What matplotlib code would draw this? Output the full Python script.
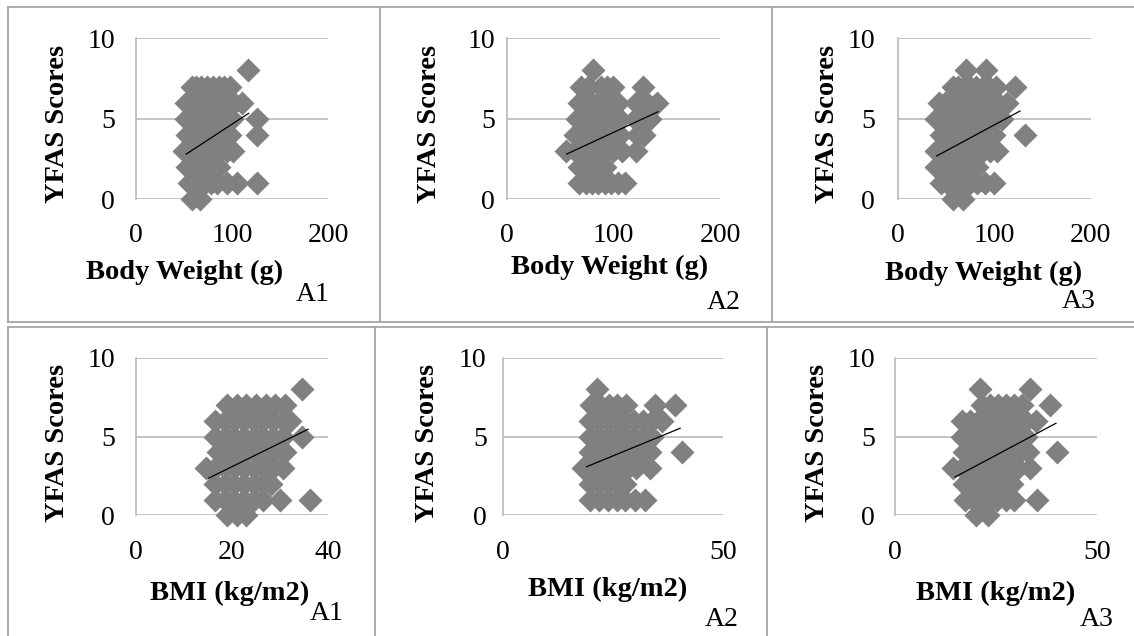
"""
YFAS scores against body weight and BMI, three groups (A1-A3),
drawn as a 2x3 grid of Excel-style scatter panels inside a table.
"""

import matplotlib
matplotlib.use("Agg")
import matplotlib.pyplot as plt
from matplotlib.lines import Line2D

# ---------------- DATA ----------------
# (x, YFAS score) pairs, body weight in g
weight_a1 = [
    (117, 8),
    (58, 7), (63, 7), (68, 7), (74, 7), (80, 7), (86, 7), (92, 7), (98, 7),
    (52, 6), (57, 6), (62, 6), (67, 6), (72, 6), (78, 6), (84, 6), (90, 6), (96, 6), (102, 6), (110, 6),
    (52, 5), (56, 5), (61, 5), (66, 5), (71, 5), (76, 5), (82, 5), (88, 5), (94, 5), (100, 5), (126, 5),
    (53, 4), (58, 4), (63, 4), (68, 4), (74, 4), (80, 4), (86, 4), (92, 4), (98, 4), (126, 4),
    (50, 3), (55, 3), (60, 3), (65, 3), (70, 3), (76, 3), (82, 3), (88, 3), (95, 3), (101, 3),
    (53, 2), (58, 2), (63, 2), (68, 2), (74, 2), (80, 2), (86, 2),
    (55, 1), (60, 1), (66, 1), (72, 1), (78, 1), (84, 1), (95, 1), (105, 1), (126, 1),
    (58, 0), (67, 0),
]
weight_a2 = [
    (81, 8),
    (70, 7), (76, 7), (88, 7), (94, 7), (100, 7), (128, 7),
    (68, 6), (74, 6), (80, 6), (86, 6), (92, 6), (98, 6), (104, 6), (121, 6), (127, 6), (132, 6), (141, 6),
    (66, 5), (72, 5), (78, 5), (84, 5), (90, 5), (96, 5), (102, 5), (106, 5), (120, 5), (128, 5), (134, 5),
    (64, 4), (70, 4), (76, 4), (82, 4), (88, 4), (94, 4), (100, 4), (106, 4), (122, 4), (129, 4),
    (56, 3), (64, 3), (70, 3), (76, 3), (82, 3), (88, 3), (94, 3), (100, 3), (108, 3), (121, 3),
    (68, 2), (74, 2), (80, 2), (86, 2), (92, 2),
    (68, 1), (74, 1), (80, 1), (86, 1), (92, 1), (98, 1), (104, 1), (111, 1),
]
weight_a3 = [
    (71, 8), (92, 8),
    (57, 7), (63, 7), (69, 7), (75, 7), (81, 7), (88, 7), (95, 7), (102, 7), (122, 7),
    (43, 6), (49, 6), (55, 6), (61, 6), (67, 6), (73, 6), (79, 6), (85, 6), (91, 6), (97, 6), (104, 6), (113, 6),
    (40, 5), (46, 5), (52, 5), (58, 5), (64, 5), (70, 5), (76, 5), (82, 5), (88, 5), (94, 5), (100, 5), (108, 5),
    (45, 4), (51, 4), (57, 4), (63, 4), (69, 4), (75, 4), (81, 4), (87, 4), (93, 4), (100, 4), (132, 4),
    (40, 3), (46, 3), (52, 3), (58, 3), (64, 3), (70, 3), (76, 3), (82, 3), (88, 3), (96, 3), (103, 3),
    (40, 2), (46, 2), (52, 2), (58, 2), (64, 2), (70, 2), (76, 2), (82, 2),
    (45, 1), (51, 1), (57, 1), (63, 1), (69, 1), (75, 1), (82, 1), (90, 1), (100, 1),
    (57, 0), (68, 0),
]
# BMI in kg/m2
bmi_a1 = [
    (34.5, 8),
    (19, 7), (21, 7), (23, 7), (25, 7), (27, 7), (29, 7), (31, 7),
    (16.5, 6), (18.5, 6), (20.5, 6), (22.5, 6), (24.5, 6), (26.5, 6), (28.5, 6), (30.5, 6), (32, 6),
    (16.5, 5), (18.5, 5), (20.5, 5), (22.5, 5), (24.5, 5), (26.5, 5), (28.5, 5), (30.5, 5), (34.5, 5),
    (17, 4), (19, 4), (21, 4), (23, 4), (25, 4), (27, 4), (29, 4), (31, 4),
    (14.7, 3), (16.5, 3), (18.5, 3), (20.5, 3), (22.5, 3), (24.5, 3), (26.5, 3), (28.5, 3), (30.6, 3),
    (16.5, 2), (18.5, 2), (20.5, 2), (22.5, 2), (24.5, 2), (26.5, 2), (28, 2),
    (16.5, 1), (18.5, 1), (20.5, 1), (22.5, 1), (24.5, 1), (26.5, 1), (30, 1), (36.2, 1),
    (19, 0), (21, 0), (23, 0),
]
bmi_a2 = [
    (21.3, 8),
    (20, 7), (22, 7), (24, 7), (26, 7), (28, 7), (34.5, 7), (39, 7),
    (19.8, 6), (21.8, 6), (23.8, 6), (25.8, 6), (27.8, 6), (29.8, 6), (31.8, 6), (33.8, 6), (36, 6),
    (19.8, 5), (21.8, 5), (23.8, 5), (25.8, 5), (27.8, 5), (29.8, 5), (31.8, 5), (33.8, 5),
    (19.8, 4), (21.8, 4), (23.8, 4), (25.8, 4), (27.8, 4), (29.8, 4), (31.8, 4), (33.4, 4), (40.6, 4),
    (18.3, 3), (20.3, 3), (22.3, 3), (24.3, 3), (26.3, 3), (28.3, 3), (30.3, 3), (33.4, 3),
    (19.8, 2), (21.8, 2), (23.8, 2), (25.8, 2), (27.7, 2),
    (19.8, 1), (21.8, 1), (23.8, 1), (25.8, 1), (27.8, 1), (30, 1), (32.3, 1),
]
bmi_a3 = [
    (21.1, 8), (33.5, 8),
    (21.5, 7), (23.5, 7), (25.5, 7), (27.5, 7), (29.5, 7), (31.5, 7), (38.4, 7),
    (16.5, 6), (18.5, 6), (20.5, 6), (22.5, 6), (24.5, 6), (26.5, 6), (28.5, 6), (30.5, 6), (32.5, 6), (35, 6),
    (16.5, 5), (18.5, 5), (20.5, 5), (22.5, 5), (24.5, 5), (26.5, 5), (28.5, 5), (30.5, 5), (32.5, 5),
    (17, 4), (19, 4), (21, 4), (23, 4), (25, 4), (27, 4), (29, 4), (31, 4), (33, 4), (40.1, 4),
    (14.5, 3), (16.5, 3), (18.5, 3), (20.5, 3), (22.5, 3), (24.5, 3), (26.5, 3), (28.5, 3), (30.5, 3), (33.5, 3),
    (17, 2), (19, 2), (21, 2), (23, 2), (25, 2), (27, 2), (29, 2),
    (17.4, 1), (19.4, 1), (21.4, 1), (23.4, 1), (25.4, 1), (27.4, 1), (29.4, 1), (35.1, 1),
    (20.2, 0), (23.1, 0),
]

# linear trend lines as drawn (start and end points)
trend_weight_x = [[52.5, 117.3], [56.2, 142.0], [40.4, 126.7]]
trend_weight_y = [[2.81, 5.34], [2.81, 5.44], [2.69, 5.48]]
trend_bmi_x = [[15.1, 35.8], [19.0, 40.2], [14.9, 39.9]]
trend_bmi_y = [[2.35, 5.46], [3.08, 5.52], [2.43, 5.84]]

group_labels = ["A1", "A2", "A3"]
weight_ticks = [0, 100, 200]
bmi_ticks = [[0, 20, 40], [0, 50], [0, 50]]
score_ticks = [0, 5, 10]

# ---------------- LAYOUT (pixels) ----------------
W, H = 1134, 636
plt.rcParams["font.family"] = ["Liberation Serif", "DejaVu Serif"]

GRID = "#b4b4b4"
BORDER = "#a6a6a6"
MARK = "#808080"


def rect(l, t, r, b):
    return [l / W, 1 - b / H, (r - l) / W, (b - t) / H]


def fxy(x, y):
    return x / W, 1 - y / H


def draw_panel(fig, box, points, xticks, tx, ty, ypad, xpad, xlabel, xlab_pos, ylab_pos, tag, tag_pos):
    ax = fig.add_axes(rect(*box))
    xs = [p[0] for p in points]
    ys = [p[1] for p in points]
    ax.scatter(xs, ys, marker="D", s=150, color=MARK, linewidths=0, clip_on=False, zorder=3)
    ax.plot(tx, ty, color="black", lw=0.9, zorder=4)
    ax.set_xlim(xticks[0], xticks[-1])
    ax.set_ylim(0, 10)
    ax.set_xticks(xticks)
    ax.set_yticks(score_ticks)
    ax.yaxis.grid(True, color=GRID, lw=1.1, zorder=0)
    ax.set_axisbelow(True)
    for side in ["top", "right", "bottom"]:
        ax.spines[side].set_visible(False)
    ax.spines["left"].set_color(GRID)
    ax.spines["left"].set_linewidth(1.1)
    ax.tick_params(axis="both", length=0, labelsize=20)
    ax.tick_params(axis="y", pad=ypad)
    ax.tick_params(axis="x", pad=xpad)

    x, y = fxy(*xlab_pos)
    fig.text(x, y, xlabel, ha="center", va="center", fontsize=20.5, fontweight="bold")
    x, y = fxy(*ylab_pos)
    fig.text(x, y, "YFAS Scores", ha="center", va="center", rotation=90,
             fontsize=20.5, fontweight="bold")
    x, y = fxy(*tag_pos)
    fig.text(x, y, tag, ha="center", va="center", fontsize=20)
    return ax


def draw_table(fig):
    segs = [
        ((8, 7), (1134, 7)),
        ((8, 322), (1134, 322)),
        ((8, 327), (1134, 327)),
        ((8, 7), (8, 322)),
        ((8, 327), (8, 636)),
        ((380, 7), (380, 322)),
        ((772, 7), (772, 322)),
        ((374.5, 327), (374.5, 636)),
        ((767, 327), (767, 636)),
    ]
    for (x0, y0), (x1, y1) in segs:
        a = fxy(x0, y0)
        b = fxy(x1, y1)
        fig.add_artist(Line2D([a[0], b[0]], [a[1], b[1]], transform=fig.transFigure,
                              color=BORDER, lw=1.3))


def main():
    fig = plt.figure(figsize=(W / 100, H / 100), dpi=100)
    fig.patch.set_facecolor("white")
    draw_table(fig)

    # top row: body weight
    weight_sets = [weight_a1, weight_a2, weight_a3]
    top_boxes = [(135.7, 38.3, 328.3, 199.3), (506.7, 38.3, 720, 199.3), (897.7, 38.3, 1090.7, 199.3)]
    top_ypads = [15, 8.6, 16.5]
    top_xlab = [(185, 272), (610, 267), (984, 273)]
    top_ylab = [(58, 124), (430, 124), (827, 124)]
    top_tags = [(313, 295), (724, 303), (1079, 302)]
    for i in range(3):
        draw_panel(fig, top_boxes[i], weight_sets[i], weight_ticks,
                   trend_weight_x[i], trend_weight_y[i], top_ypads[i], 17,
                   "Body Weight (g)", top_xlab[i], top_ylab[i], group_labels[i], top_tags[i])

    # bottom row: BMI
    bmi_sets = [bmi_a1, bmi_a2, bmi_a3]
    bot_boxes = [(135.7, 357.7, 328.3, 515.3), (502.7, 357.7, 723.3, 515.3), (895, 357.7, 1096.7, 515.3)]
    bot_ypads = [15, 11.5, 14.4]
    bot_xlab = [(230, 593), (608, 589), (996, 593)]
    bot_ylab = [(58, 443), (427, 443), (818, 443)]
    bot_tags = [(327, 613), (722, 620), (1097, 619)]
    for i in range(3):
        draw_panel(fig, bot_boxes[i], bmi_sets[i], bmi_ticks[i],
                   trend_bmi_x[i], trend_bmi_y[i], bot_ypads[i], 18,
                   "BMI (kg/m2)", bot_xlab[i], bot_ylab[i], group_labels[i], bot_tags[i])

    fig.savefig("out.png", dpi=100)
    plt.close(fig)


if __name__ == "__main__":
    main()
